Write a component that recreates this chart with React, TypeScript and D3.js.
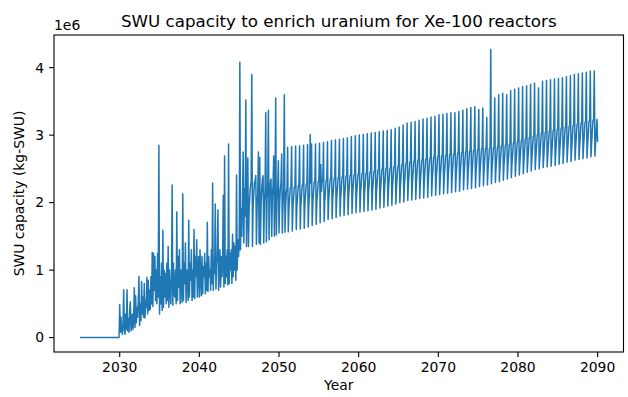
import React from 'react';
import * as d3 from 'd3';

// monthly SWU capacity, in millions of kg-SWU, one row per year from 2025
const startYear = 2025;
const monthlySwu: number[][] = [
  [0, 0, 0, 0, 0, 0, 0, 0, 0, 0, 0, 0], // 2025
  [0, 0, 0, 0, 0, 0, 0, 0, 0, 0, 0, 0],
  [0, 0, 0, 0, 0, 0, 0, 0, 0, 0, 0, 0],
  [0, 0, 0, 0, 0, 0, 0, 0, 0, 0, 0, 0],
  [0, 0, 0, 0, 0, 0, 0, 0, 0, 0, 0, 0],
  [0.49, 0.08, 0.3, 0.12, 0.05, 0.2, 0.71, 0.1, 0.05, 0.35, 0.12, 0.71], // 2030
  [0.1, 0.28, 0.08, 0.4, 0.53, 0.1, 0.2, 0.35, 0.12, 0.3, 0.74, 0.15],
  [0.62, 0.22, 0.45, 0.3, 0.55, 0.91, 0.18, 0.5, 0.25, 0.83, 0.35, 0.6],
  [0.3, 0.8, 0.29, 0.55, 0.45, 0.89, 0.35, 0.85, 0.4, 0.7, 0.42, 0.9],
  [0.5, 1.26, 0.46, 1.25, 0.7, 1.2, 0.55, 1.0, 0.5, 1.25, 0.6, 2.85],
  [0.35, 0.9, 0.5, 1.1, 0.4, 1.59, 0.45, 1.0, 0.6, 0.95, 0.5, 1.1], // 2035
  [0.55, 1.35, 0.45, 1.0, 0.7, 0.5, 0.9, 2.26, 0.48, 1.1, 0.7, 0.6],
  [1.0, 0.5, 1.86, 0.55, 1.2, 0.75, 1.3, 0.5, 1.0, 0.8, 0.52, 2.13],
  [0.55, 1.1, 0.8, 1.4, 0.52, 1.0, 0.9, 0.55, 1.74, 0.6, 1.1, 0.85],
  [1.3, 0.55, 1.0, 0.6, 1.6, 0.58, 1.2, 0.9, 1.45, 0.6, 1.0, 1.2],
  [0.6, 1.3, 0.9, 0.62, 1.2, 0.65, 1.05, 0.9, 1.25, 0.65, 1.1, 0.7], // 2040
  [1.71, 0.68, 1.2, 0.9, 1.0, 0.7, 1.3, 0.8, 2.29, 0.7, 1.15, 0.95],
  [1.98, 0.72, 1.1, 1.2, 1.89, 0.7, 1.0, 1.3, 0.75, 1.2, 0.9, 1.1],
  [2.11, 0.75, 2.69, 0.8, 1.2, 0.9, 1.3, 0.78, 2.87, 0.8, 1.25, 1.0],
  [1.3, 0.8, 1.53, 0.9, 1.4, 1.0, 1.35, 0.85, 2.41, 1.0, 1.45, 1.2],
  [1.35, 4.08, 1.3, 1.9, 1.5, 2.1, 2.75, 1.4, 2.2, 1.8, 3.52, 1.35], // 2045
  [2.0, 2.66, 1.35, 1.9, 2.1, 2.25, 2.3, 3.9, 1.35, 1.95, 2.15, 2.3],
  [2.32, 2.4, 1.38, 1.95, 2.15, 2.75, 1.4, 2.67, 1.38, 2.0, 2.2, 2.35],
  [2.4, 1.4, 2.0, 2.2, 3.33, 1.42, 2.05, 2.25, 3.37, 1.45, 2.1, 2.3],
  [2.35, 1.5, 2.1, 2.25, 2.69, 1.5, 2.15, 3.55, 1.52, 2.05, 2.2, 2.62],
  [1.55, 2.0, 2.2, 2.3, 2.72, 1.55, 1.95, 2.2, 3.6, 1.56, 1.95, 2.15], // 2050
  [2.21, 2.82, 1.57, 1.92, 2.07, 2.22, 2.23, 2.83, 1.58, 1.93, 2.08, 2.23],
  [2.24, 2.84, 1.6, 1.95, 2.1, 2.25, 2.26, 2.84, 1.61, 1.96, 2.11, 2.26],
  [2.27, 2.85, 1.62, 1.97, 2.12, 2.27, 2.28, 2.86, 1.64, 1.98, 2.13, 3.01],
  [2.29, 2.87, 1.66, 2.0, 2.15, 2.3, 2.31, 2.87, 1.68, 2.01, 2.16, 2.31],
  [2.32, 2.88, 1.7, 2.56, 2.17, 2.32, 2.33, 2.89, 1.72, 2.03, 2.18, 2.33], // 2055
  [2.34, 2.9, 1.75, 2.05, 2.2, 2.35, 2.36, 2.92, 1.76, 2.06, 2.21, 2.36],
  [2.37, 2.93, 1.78, 2.07, 2.22, 2.37, 2.38, 2.94, 1.8, 2.08, 2.23, 2.38],
  [2.39, 2.95, 1.81, 2.1, 2.25, 2.39, 2.4, 2.96, 1.82, 2.11, 2.26, 2.4],
  [2.41, 2.98, 1.84, 2.12, 2.27, 2.41, 2.42, 2.99, 1.85, 2.13, 2.28, 2.42],
  [2.43, 3.0, 1.86, 2.14, 2.29, 2.43, 2.44, 3.01, 1.87, 2.15, 2.3, 2.44], // 2060
  [2.45, 3.02, 1.88, 2.16, 2.31, 2.45, 2.46, 3.03, 1.89, 2.17, 2.32, 2.46],
  [2.47, 3.04, 1.9, 2.18, 2.33, 2.48, 2.49, 3.05, 1.92, 2.19, 2.34, 2.49],
  [2.5, 3.06, 1.93, 2.2, 2.35, 2.5, 2.51, 3.07, 1.95, 2.21, 2.36, 2.51],
  [2.52, 3.08, 1.96, 2.22, 2.38, 2.53, 2.54, 3.1, 1.98, 2.23, 2.39, 2.54],
  [2.55, 3.12, 2.0, 2.25, 2.41, 2.56, 2.57, 3.15, 2.01, 2.26, 2.42, 2.58], // 2065
  [2.59, 3.18, 2.03, 2.28, 2.44, 2.6, 2.61, 3.19, 2.04, 2.29, 2.45, 2.61],
  [2.62, 3.2, 2.05, 2.3, 2.46, 2.62, 2.63, 3.22, 2.06, 2.31, 2.47, 2.63],
  [2.64, 3.24, 2.07, 2.33, 2.49, 2.64, 2.65, 3.25, 2.08, 2.34, 2.5, 2.65],
  [2.66, 3.27, 2.1, 2.35, 2.51, 2.67, 2.68, 3.28, 2.11, 2.36, 2.52, 2.68],
  [2.69, 3.3, 2.12, 2.37, 2.53, 2.69, 2.7, 3.31, 2.13, 2.38, 2.54, 2.7], // 2070
  [2.71, 3.32, 2.14, 2.4, 2.56, 2.71, 2.72, 3.33, 2.15, 2.41, 2.57, 2.72],
  [2.73, 3.33, 2.16, 2.42, 2.58, 2.73, 2.74, 3.35, 2.17, 2.43, 2.59, 2.74],
  [2.75, 3.37, 2.19, 2.44, 2.6, 2.75, 2.76, 3.39, 2.2, 2.45, 2.61, 2.76],
  [2.77, 3.41, 2.21, 2.46, 2.62, 2.77, 2.78, 3.42, 2.22, 2.47, 2.63, 2.78],
  [2.79, 3.38, 2.24, 2.48, 2.64, 2.79, 2.8, 3.4, 2.25, 2.49, 2.65, 2.8], // 2075
  [2.8, 3.26, 2.26, 2.5, 2.65, 2.8, 2.81, 4.27, 2.28, 2.51, 2.66, 2.81],
  [2.82, 3.55, 2.3, 2.52, 2.67, 2.82, 2.84, 3.6, 2.31, 2.53, 2.69, 2.84],
  [2.85, 3.62, 2.33, 2.55, 2.7, 2.85, 2.86, 3.6, 2.35, 2.56, 2.71, 2.86],
  [2.88, 3.66, 2.37, 2.58, 2.73, 2.88, 2.9, 3.68, 2.39, 2.59, 2.75, 2.9],
  [2.92, 3.7, 2.41, 2.61, 2.77, 2.92, 2.94, 3.72, 2.43, 2.62, 2.78, 2.94], // 2080
  [2.96, 3.73, 2.45, 2.64, 2.8, 2.96, 2.98, 3.75, 2.47, 2.65, 2.82, 2.98],
  [3.0, 3.77, 2.49, 2.67, 2.84, 3.0, 3.02, 3.7, 2.5, 2.68, 2.85, 3.02],
  [3.04, 3.8, 2.52, 2.7, 2.87, 3.04, 3.05, 3.81, 2.53, 2.71, 2.88, 3.05],
  [3.07, 3.82, 2.54, 2.73, 2.9, 3.07, 3.08, 3.83, 2.55, 2.74, 2.91, 3.08],
  [3.1, 3.84, 2.57, 2.76, 2.93, 3.1, 3.11, 3.85, 2.58, 2.77, 2.94, 3.11], // 2085
  [3.13, 3.87, 2.6, 2.79, 2.96, 3.13, 3.14, 3.88, 2.61, 2.8, 2.97, 3.14],
  [3.16, 3.9, 2.63, 2.82, 2.99, 3.16, 3.17, 3.91, 2.64, 2.83, 3.0, 3.17],
  [3.19, 3.92, 2.65, 2.85, 3.02, 3.19, 3.2, 3.93, 2.66, 2.86, 3.03, 3.2],
  [3.22, 3.95, 2.68, 2.88, 3.05, 3.22, 3.23, 3.95, 2.69, 2.89, 3.06, 3.23],
  [2.9], // 2090
];

const xTicks = [2030, 2040, 2050, 2060, 2070, 2080, 2090];
const yTicks = [0, 1, 2, 3, 4];

const W = 628;
const H = 397;
const M = { left: 54, right: 623.5, top: 35, bottom: 352 };
const font = 'DejaVu Sans, sans-serif';

export default function App() {
  const points = monthlySwu.flatMap((row, yi) =>
    row.map((v, m) => ({ t: startYear + yi + m / 12, v }))
  );

  const [t0, t1] = d3.extent(points, (d) => d.t) as [number, number];
  const [v0, v1] = d3.extent(points, (d) => d.v) as [number, number];
  const padT = (t1 - t0) * 0.05;
  const padV = (v1 - v0) * 0.05;

  const x = d3.scaleLinear().domain([t0 - padT, t1 + padT]).range([M.left, M.right]);
  const y = d3.scaleLinear().domain([v0 - padV, v1 + padV]).range([M.bottom, M.top]);

  const line = d3
    .line<{ t: number; v: number }>()
    .x((d) => x(d.t))
    .y((d) => y(d.v));

  const cx = (M.left + M.right) / 2;

  return (
    <svg
      width={W}
      height={H}
      style={{ position: 'absolute', left: 0, top: 0, background: '#fff' }}
      fontFamily={font}
    >
      <defs>
        <clipPath id="plot">
          <rect x={M.left} y={M.top} width={M.right - M.left} height={M.bottom - M.top} />
        </clipPath>
      </defs>

      <path
        d={line(points) || ''}
        fill="none"
        stroke="#1f77b4"
        strokeWidth={1.5}
        strokeLinejoin="round"
        clipPath="url(#plot)"
      />

      <rect
        x={M.left}
        y={M.top}
        width={M.right - M.left}
        height={M.bottom - M.top}
        fill="none"
        stroke="#000"
        strokeWidth={1.1}
      />

      {xTicks.map((t) => (
        <g key={t} transform={`translate(${x(t)},${M.bottom})`}>
          <line y2={4.9} stroke="#000" strokeWidth={1.1} />
          <text y={19.5} textAnchor="middle" fontSize={13.9} fill="#000">
            {t}
          </text>
        </g>
      ))}

      {yTicks.map((v) => (
        <g key={v} transform={`translate(${M.left},${y(v)})`}>
          <line x2={-4.9} stroke="#000" strokeWidth={1.1} />
          <text x={-9.8} dy="0.35em" textAnchor="end" fontSize={13.9} fill="#000">
            {v}
          </text>
        </g>
      ))}

      <text x={M.left} y={M.top - 5} fontSize={13.9} fill="#000">
        1e6
      </text>

      <text x={cx} y={26.5} textAnchor="middle" fontSize={16.7} fill="#000">
        SWU capacity to enrich uranium for Xe-100 reactors
      </text>

      <text x={cx} y={390} textAnchor="middle" fontSize={13.9} fill="#000">
        Year
      </text>

      <text
        transform={`translate(24,${(M.top + M.bottom) / 2}) rotate(-90)`}
        textAnchor="middle"
        fontSize={13.9}
        fill="#000"
      >
        SWU capacity (kg-SWU)
      </text>
    </svg>
  );
}
